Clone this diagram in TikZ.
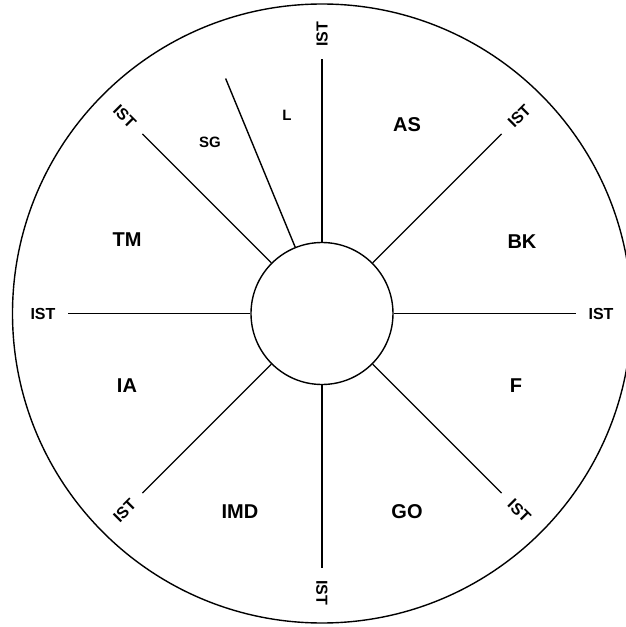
\documentclass[tikz,border=0pt]{standalone}
\usepackage{fontspec}
\setmainfont{Liberation Sans}
\usepackage{tikz}
\usetikzlibrary{calc, positioning}

\begin{document}
\begin{tikzpicture}[x=1pt, y=1pt, line width=1.4pt,
    hub node/.style={draw, circle, minimum size=142pt, inner sep=0pt},
    ist label/.style={font=\fontsize{16}{18}\selectfont\bfseries, inner sep=1pt},
    sector label/.style={font=\fontsize{20}{22}\selectfont\bfseries},
    small label/.style={font=\fontsize{15}{17}\selectfont\bfseries}]
    \useasboundingbox (-322,-313.5) rectangle (304,313.5);
    \clip (-322,-313.5) rectangle (304,313.5);

    \draw (0,0) circle (309.5);
    \node[hub node] (hub) at (0,0) {};

    \coordinate (north) at (90:254);
    \coordinate (northeast) at (45:254);
    \coordinate (east) at (0:254);
    \coordinate (southeast) at (-45:254);
    \coordinate (south) at (-90:254);
    \coordinate (southwest) at (-135:254);
    \coordinate (west) at (180:254);
    \coordinate (northwest) at (135:254);
    \coordinate (split) at (112.3:254);

    \node[ist label, rotate=90] (ist n) at (90:279) {IST};
    \node[ist label, rotate=45] (ist ne) at (45:279) {IST};
    \node[ist label] (ist e) at (0:279) {IST};
    \node[ist label, rotate=-45] (ist se) at (-45:279) {IST};
    \node[ist label, rotate=-90] (ist s) at (-90:279) {IST};
    \node[ist label, rotate=45] (ist sw) at (-135:279) {IST};
    \node[ist label] (ist w) at (180:279) {IST};
    \node[ist label, rotate=-45] (ist nw) at (135:279) {IST};

    \draw (hub.90) -- (north);
    \draw (hub.45) -- (northeast);
    \draw (hub.0) -- (east);
    \draw (hub.-45) -- (southeast);
    \draw (hub.-90) -- (south);
    \draw (hub.-135) -- (southwest);
    \draw (hub.180) -- (west);
    \draw (hub.135) -- (northwest);
    \draw (hub.112.3) -- (split);

    \node[sector label] (as) at (85,188.5) {AS};
    \node[sector label] (bk) at (200,71.5) {BK};
    \node[sector label] (f) at (194,-72.5) {F};
    \node[sector label] (go) at (85,-198.5) {GO};
    \node[sector label] (imd) at (-82,-198.5) {IMD};
    \node[sector label] (ia) at (-195,-72.5) {IA};
    \node[sector label] (tm) at (-195,73.5) {TM};
    \node[small label] (sg) at (-112,171.5) {SG};
    \node[small label] (l) at (-35,198.5) {L};
\end{tikzpicture}
\end{document}
